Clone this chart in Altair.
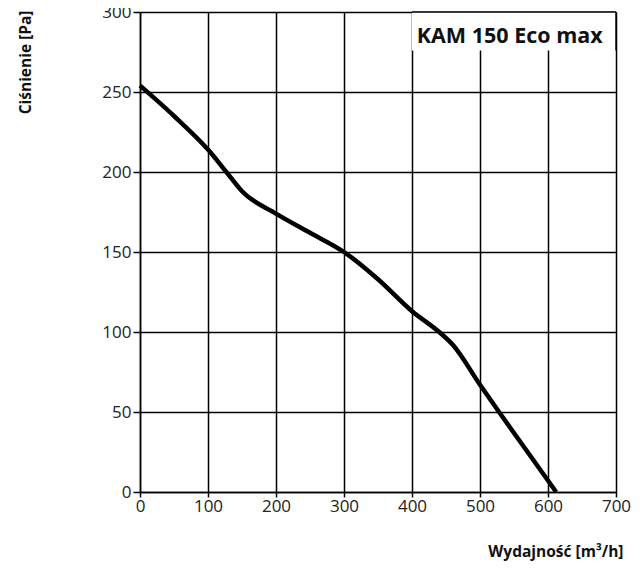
import altair as alt
import pandas as pd

flow = [0, 50, 100, 127, 150, 200, 250, 300, 350, 400, 440, 460, 500, 528, 570, 612]
pressure = [254, 235, 214, 200, 188, 174, 162, 150, 133, 113, 100, 92, 67, 50, 25, 0]

x_ticks = [0, 100, 200, 300, 400, 500, 600, 700]
y_ticks = [0, 50, 100, 150, 200, 250, 300]

title_text = "KAM 150 Eco max"
x_title = "Wydajność [m³/h]"
y_title = "Ciśnienie [Pa]"

df = pd.DataFrame({"q": flow, "p": pressure})

FONT = "Open Sans"

xs = alt.Scale(domain=[0, 700], nice=False, zero=False)
ys = alt.Scale(domain=[0, 300], nice=False, zero=False)

x_axis = alt.Axis(values=x_ticks, grid=True, gridColor="#000", gridWidth=1.5, gridOpacity=1,
                  domainColor="#000", domainWidth=1.5, tickColor="#000", tickWidth=1.5, tickSize=5,
                  labelFont=FONT, labelFontSize=17, labelColor="#222", labelPadding=1,
                  labelFlush=False,
                  title=x_title, titleFont=FONT, titleFontSize=15.5, titleFontWeight="bold",
                  titleColor="#111", titleX=483, titleY=59, titleAlign="right",
                  titleBaseline="middle", titleAnchor="start")
y_axis = alt.Axis(values=y_ticks, grid=True, gridColor="#000", gridWidth=1.5, gridOpacity=1,
                  domainColor="#000", domainWidth=1.5, tickColor="#000", tickWidth=1.5, tickSize=7,
                  labelFont=FONT, labelFontSize=17, labelColor="#222", labelPadding=2,
                  labelFlush=False,
                  title=y_title, titleFont=FONT, titleFontSize=15.5, titleFontWeight="bold",
                  titleColor="#111", titleAngle=-90, titleX=-115, titleY=-2,
                  titleAlign="right", titleBaseline="middle", titleAnchor="start")

line = alt.Chart(df).mark_line(color="#000", strokeWidth=4.5, interpolate="monotone").encode(
    x=alt.X("q:Q", scale=xs, axis=x_axis),
    y=alt.Y("p:Q", scale=ys, axis=y_axis),
)

box_df = pd.DataFrame({"x1": [400], "x2": [700], "y1": [276], "y2": [300]})
box = alt.Chart(box_df).mark_rect(color="white").encode(
    x=alt.X("x1:Q", scale=xs), x2="x2", y=alt.Y("y1:Q", scale=ys), y2="y2"
)
top_rule = alt.Chart(box_df).mark_rule(color="#000", strokeWidth=1.5).encode(
    x=alt.X("x1:Q", scale=xs), x2="x2", y=alt.Y("y2:Q", scale=ys)
)
right_rule = alt.Chart(box_df).mark_rule(color="#000", strokeWidth=1.5).encode(
    x=alt.X("x2:Q", scale=xs), y=alt.Y("y1:Q", scale=ys), y2="y2"
)
label_df = pd.DataFrame({"x": [407], "y": [284.5], "t": [title_text]})
label = alt.Chart(label_df).mark_text(font=FONT, fontSize=21.5, fontWeight="bold", color="#111",
                                       align="left", baseline="middle").encode(
    x=alt.X("x:Q", scale=xs), y=alt.Y("y:Q", scale=ys), text="t:N"
)

chart = alt.layer(line, box, top_rule, right_rule, label).properties(
    width=476, height=480,
    autosize=alt.AutoSizeParams(type="none"),
    padding={"left": 132, "top": 4, "right": 20, "bottom": 72},
).configure_view(stroke=None)

chart.save("out.html", embed_options={"renderer": "svg", "actions": False})
